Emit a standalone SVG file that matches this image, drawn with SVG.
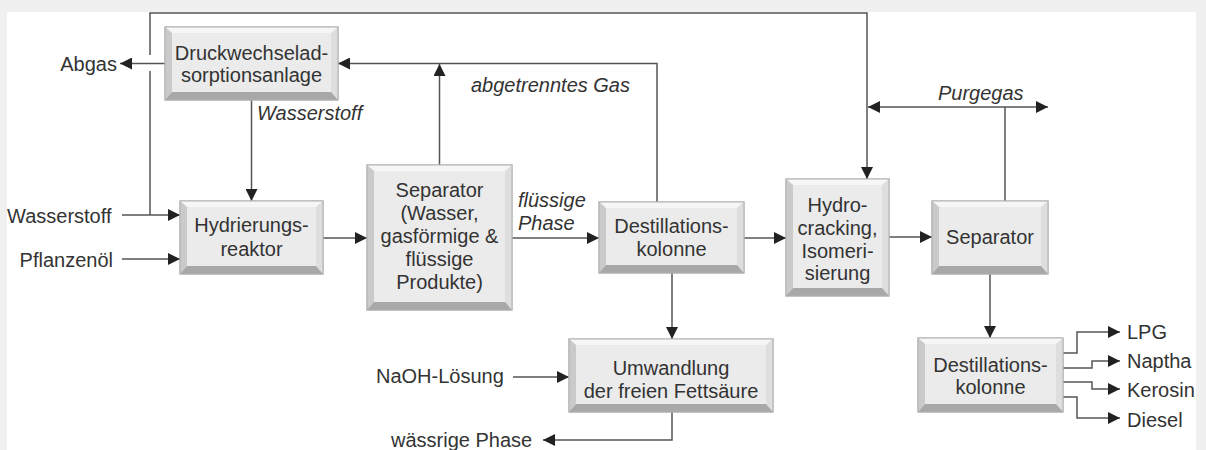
<svg xmlns="http://www.w3.org/2000/svg" width="1206" height="450" viewBox="0 0 1206 450">
<style>
.face{fill:#ebebeb;stroke:#b0b0b0;stroke-width:1}
.bt{fill:#f6f6f6}
.bl{fill:#cacaca}
.br{fill:#dedede}
.bb{fill:#a8a8a8}
text{font-family:"Liberation Sans",Arial,sans-serif;font-size:20px;fill:#333}
.c{text-anchor:middle}
.e{text-anchor:end}
.i{font-style:italic}
.ln{fill:none;stroke:#555;stroke-width:1.5}
.a{marker-end:url(#ah)}
</style>
<defs>
<marker id="ah" markerUnits="userSpaceOnUse" markerWidth="12" markerHeight="12" refX="12" refY="6" orient="auto-start-reverse" viewBox="0 0 12 12">
<path d="M0,0 L12,6 L0,12 z" fill="#222"/>
</marker>
</defs>
<rect x="0" y="0" width="1206" height="450" fill="#f0f0f0"/>
<rect x="7" y="12" width="1189" height="438" fill="#fff"/>

<g id="connectors">
<path class="ln" d="M165,63.5 H120" marker-end="url(#ah)"/>
<path class="ln" d="M150,55 V13 H867 V179" marker-end="url(#ah)"/>
<path class="ln" d="M150,71 V215"/>
<path class="ln" d="M122,215 H180" marker-end="url(#ah)"/>
<path class="ln" d="M122,259 H180" marker-end="url(#ah)"/>
<path class="ln" d="M251.5,100 V201" marker-end="url(#ah)"/>
<path class="ln" d="M323,238 H367" marker-end="url(#ah)"/>
<path class="ln" d="M439.5,165 V64" marker-end="url(#ah)"/>
<path class="ln" d="M657,202 V63.5 H338" marker-end="url(#ah)"/>
<path class="ln" d="M512,238 H599" marker-end="url(#ah)"/>
<path class="ln" d="M744,238 H786" marker-end="url(#ah)"/>
<path class="ln" d="M889,237 H932" marker-end="url(#ah)"/>
<path class="ln" d="M1005,201 V107"/>
<path class="ln" d="M868,107 H1048" marker-start="url(#ah)" marker-end="url(#ah)"/>
<path class="ln" d="M672,273 V339" marker-end="url(#ah)"/>
<path class="ln" d="M513,377 H569" marker-end="url(#ah)"/>
<path class="ln" d="M672,412 V440 H543" marker-end="url(#ah)"/>
<path class="ln" d="M990,274 V338" marker-end="url(#ah)"/>
<path class="ln" d="M1063,353 H1077 V332 H1120" marker-end="url(#ah)"/>
<path class="ln" d="M1063,368 H1092 V361 H1120" marker-end="url(#ah)"/>
<path class="ln" d="M1063,382 H1092 V389 H1120" marker-end="url(#ah)"/>
<path class="ln" d="M1063,397 H1077 V418 H1120" marker-end="url(#ah)"/>
</g>

<g id="labels">
<text class="e" x="117" y="71">Abgas</text>
<text x="7" y="223">Wasserstoff</text>
<text class="e" x="113" y="267">Pflanzenöl</text>
<text class="i" x="257" y="120">Wasserstoff</text>
<text class="i" x="471" y="92">abgetrenntes Gas</text>
<text class="i" x="518" y="207">flüssige</text>
<text class="i" x="518" y="230">Phase</text>
<text class="i" x="938" y="100">Purgegas</text>
<text x="376" y="383">NaOH-Lösung</text>
<text x="391" y="447">wässrige Phase</text>
<text x="1127" y="339">LPG</text>
<text x="1127" y="368">Naptha</text>
<text x="1127" y="397">Kerosin</text>
<text x="1127" y="427">Diesel</text>
</g>

<g id="psa">
<rect class="face" x="165" y="27" width="173" height="73"/>
<polygon class="bt" points="165,27 338,27 331,33 172,33"/>
<polygon class="bl" points="165,27 172,33 172,92 165,100"/>
<polygon class="br" points="338,27 338,100 331,92 331,33"/>
<polygon class="bb" points="165,100 172,92 331,92 338,100"/>
<rect x="165" y="27" width="173" height="73" fill="none" stroke="#b0b0b0"/>
<text class="c" x="251.5" y="60">Druckwechselad-</text>
<text class="c" x="251.5" y="82">sorptionsanlage</text>
</g>

<g id="hydrierungsreaktor">
<rect class="face" x="180" y="201" width="143" height="73"/>
<polygon class="bt" points="180,201 323,201 316,207 187,207"/>
<polygon class="bl" points="180,201 187,207 187,266 180,274"/>
<polygon class="br" points="323,201 323,274 316,266 316,207"/>
<polygon class="bb" points="180,274 187,266 316,266 323,274"/>
<rect x="180" y="201" width="143" height="73" fill="none" stroke="#b0b0b0"/>
<text class="c" x="251.5" y="232">Hydrierungs-</text>
<text class="c" x="251.5" y="256">reaktor</text>
</g>

<g id="separator1">
<rect class="face" x="367" y="165" width="145" height="145"/>
<polygon class="bt" points="367,165 512,165 505,171 374,171"/>
<polygon class="bl" points="367,165 374,171 374,302 367,310"/>
<polygon class="br" points="512,165 512,310 505,302 505,171"/>
<polygon class="bb" points="367,310 374,302 505,302 512,310"/>
<rect x="367" y="165" width="145" height="145" fill="none" stroke="#b0b0b0"/>
<text class="c" x="439.5" y="197">Separator</text>
<text class="c" x="439.5" y="220">(Wasser,</text>
<text class="c" x="439.5" y="243">gasförmige &amp;</text>
<text class="c" x="439.5" y="266">flüssige</text>
<text class="c" x="439.5" y="289">Produkte)</text>
</g>

<g id="destillation1">
<rect class="face" x="599" y="202" width="145" height="71"/>
<polygon class="bt" points="599,202 744,202 737,208 606,208"/>
<polygon class="bl" points="599,202 606,208 606,265 599,273"/>
<polygon class="br" points="744,202 744,273 737,265 737,208"/>
<polygon class="bb" points="599,273 606,265 737,265 744,273"/>
<rect x="599" y="202" width="145" height="71" fill="none" stroke="#b0b0b0"/>
<text class="c" x="671.5" y="233">Destillations-</text>
<text class="c" x="671.5" y="256">kolonne</text>
</g>

<g id="hydrocracking">
<rect class="face" x="786" y="179" width="103" height="117"/>
<polygon class="bt" points="786,179 889,179 882,185 793,185"/>
<polygon class="bl" points="786,179 793,185 793,288 786,296"/>
<polygon class="br" points="889,179 889,296 882,288 882,185"/>
<polygon class="bb" points="786,296 793,288 882,288 889,296"/>
<rect x="786" y="179" width="103" height="117" fill="none" stroke="#b0b0b0"/>
<text class="c" x="837.5" y="212">Hydro-</text>
<text class="c" x="837.5" y="235">cracking,</text>
<text class="c" x="837.5" y="258">Isomeri-</text>
<text class="c" x="837.5" y="280">sierung</text>
</g>

<g id="separator2">
<rect class="face" x="932" y="201" width="116" height="73"/>
<polygon class="bt" points="932,201 1048,201 1041,207 939,207"/>
<polygon class="bl" points="932,201 939,207 939,266 932,274"/>
<polygon class="br" points="1048,201 1048,274 1041,266 1041,207"/>
<polygon class="bb" points="932,274 939,266 1041,266 1048,274"/>
<rect x="932" y="201" width="116" height="73" fill="none" stroke="#b0b0b0"/>
<text class="c" x="990" y="244">Separator</text>
</g>

<g id="umwandlung">
<rect class="face" x="569" y="339" width="204" height="73"/>
<polygon class="bt" points="569,339 773,339 766,345 576,345"/>
<polygon class="bl" points="569,339 576,345 576,404 569,412"/>
<polygon class="br" points="773,339 773,412 766,404 766,345"/>
<polygon class="bb" points="569,412 576,404 766,404 773,412"/>
<rect x="569" y="339" width="204" height="73" fill="none" stroke="#b0b0b0"/>
<text class="c" x="671" y="375">Umwandlung</text>
<text class="c" x="671" y="398">der freien Fettsäure</text>
</g>

<g id="destillation2">
<rect class="face" x="918" y="338" width="145" height="74"/>
<polygon class="bt" points="918,338 1063,338 1056,344 925,344"/>
<polygon class="bl" points="918,338 925,344 925,404 918,412"/>
<polygon class="br" points="1063,338 1063,412 1056,404 1056,344"/>
<polygon class="bb" points="918,412 925,404 1056,404 1063,412"/>
<rect x="918" y="338" width="145" height="74" fill="none" stroke="#b0b0b0"/>
<text class="c" x="990.5" y="372">Destillations-</text>
<text class="c" x="990.5" y="394">kolonne</text>
</g>
</svg>
